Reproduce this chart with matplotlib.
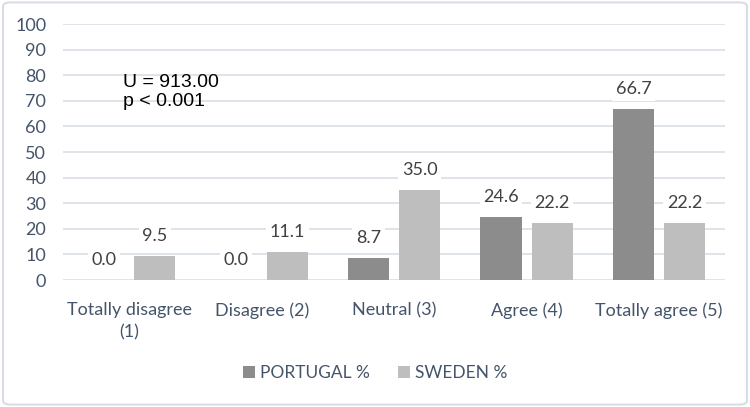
import matplotlib
matplotlib.use("Agg")
import matplotlib.pyplot as plt
import numpy as np
from matplotlib.patches import FancyBboxPatch

categories = ["Totally disagree\n(1)", "Disagree (2)", "Neutral (3)", "Agree (4)", "Totally agree (5)"]
portugal = [0.0, 0.0, 8.7, 24.6, 66.7]
sweden = [9.5, 11.1, 35.0, 22.2, 22.2]
series_names = ["PORTUGAL %", "SWEDEN %"]
yticks = list(range(0, 101, 10))

c_pt = "#8c8c8c"
c_se = "#bebebe"
txt = "#44546a"
lbl = "#404040"
grid = "#d9dee6"

plt.rcParams['font.family'] = ['Lato', 'DejaVu Sans']

fig = plt.figure(figsize=(7.5, 4.07), dpi=100)
ax = fig.add_axes([0.084, 0.312, 0.883, 0.629])

x = np.arange(len(categories))
w = 0.31
off = 0.193
b1 = ax.bar(x - off, portugal, w, color=c_pt, label=series_names[0], zorder=2)
b2 = ax.bar(x + off, sweden, w, color=c_se, label=series_names[1], zorder=2)

for bars, vals in ((b1, portugal), (b2, sweden)):
    for r, v in zip(bars, vals):
        ax.text(r.get_x() + r.get_width() / 2, v + 7.8, f"{v:.1f}", ha="center", va="center",
                fontsize=13, color=lbl, zorder=4,
                bbox=dict(boxstyle="square,pad=0.2", fc="white", ec="none"))

ax.set_ylim(0, 100)
ax.set_xlim(-0.5, len(categories) - 0.5)
ax.set_yticks(yticks)
ax.set_xticks(x)
ax.set_xticklabels(categories, fontsize=13, color=txt, va="top", linespacing=1.45)
ax.tick_params(axis="y", labelsize=13, labelcolor=txt, length=0, pad=12)
ax.tick_params(axis="x", length=0, pad=16)
ax.yaxis.grid(True, color=grid, linewidth=1.2, zorder=0)
ax.set_axisbelow(True)
for s in ax.spines.values():
    s.set_visible(False)

ax.text(0.09, 0.735, "U = 913.00\np < 0.001", transform=ax.transAxes, fontsize=14,
        family=["Liberation Sans", "DejaVu Sans"], color="black", va="center", ha="left",
        linespacing=1.2)

leg = fig.legend(handles=[b1, b2], loc="center", bbox_to_anchor=(0.5, 0.083), ncol=2,
                 frameon=False, fontsize=12.5, handlelength=0.7, handleheight=0.7,
                 handletextpad=0.3, columnspacing=1.6)
for t in leg.get_texts():
    t.set_color(txt)

border = FancyBboxPatch((0.004, 0.006), 0.992, 0.988, boxstyle="round,pad=0,rounding_size=0.01",
                        transform=fig.transFigure, fc="none", ec="#d9dde3", lw=1.5)
fig.patches.append(border)

fig.savefig("out.png", dpi=100)
